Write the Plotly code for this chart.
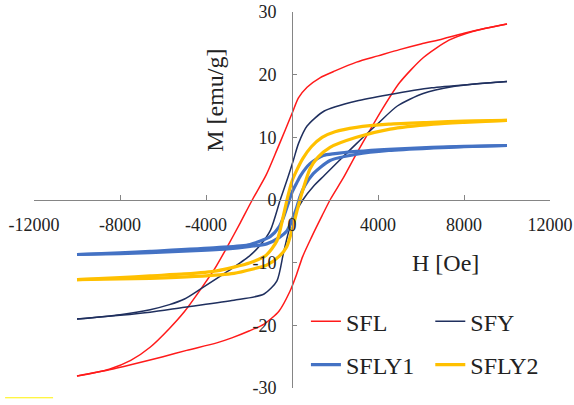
import plotly.graph_objects as go

# ---- data ----
sfl_up_h = [10000, 9000, 8000, 7000, 6000, 5000, 4000, 3000, 2000, 1300, 700, 300, 0, -300, -700, -1200, -1850, -2400, -3000, -3600, -4300, -5000, -5700, -6600, -7500, -8500, -10000]
sfl_up_m = [28.1, 27.4, 26.6, 25.7, 24.9, 24.0, 23.0, 22.0, 20.6, 19.5, 18.0, 16.3, 13.8, 11.3, 8.0, 4.0, 0.0, -3.6, -7.4, -11.0, -14.5, -17.8, -20.5, -23.5, -25.6, -27.0, -28.1]
sfl_lo_h = [-10000, -8500, -7500, -6000, -4900, -3500, -2800, -2000, -1300, -600, -100, 200, 500, 900, 1400, 1800, 2400, 3000, 3600, 4200, 5000, 6100, 7300, 8400, 10000]
sfl_lo_m = [-28.1, -27.1, -26.3, -25.0, -24.0, -22.8, -22.0, -20.9, -19.8, -17.7, -14.6, -12.0, -9.0, -6.0, -2.5, 0.2, 3.6, 7.4, 11.0, 14.5, 18.7, 22.7, 25.5, 26.9, 28.1]

sfy_up_h = [10000, 8500, 6500, 4500, 3000, 1500, 700, 300, 60, -200, -550, -1000, -1500, -2000, -3000, -4300, -5000, -5700, -6600, -8000, -10000]
sfy_up_m = [18.9, 18.5, 17.9, 16.8, 15.8, 14.2, 11.8, 9.0, 6.3, 3.5, 0.0, -4.8, -7.3, -9.0, -11.4, -14.3, -15.8, -16.7, -17.5, -18.3, -19.0]
sfy_lo_h = [-10000, -8000, -6600, -5000, -2700, -1300, -700, -400, -150, 100, 500, 1000, 1500, 2200, 3000, 4000, 4900, 6100, 7500, 8500, 10000]
sfy_lo_m = [-19.0, -18.4, -17.9, -17.1, -16.0, -15.0, -12.9, -8.5, -5.0, -2.5, 0.0, 2.2, 3.9, 6.3, 9.0, 12.2, 15.0, 17.0, 18.1, 18.5, 18.9]

sfly1_up_h = [10000, 8000, 6500, 4500, 3000, 2000, 1450, 840, 400, 200, 0, -200, -400, -600, -1000, -1950, -3500, -6600, -8000, -10000]
sfly1_up_m = [8.7, 8.55, 8.4, 8.1, 7.75, 7.4, 7.1, 5.8, 3.9, 2.6, 1.2, -0.8, -2.8, -4.3, -5.8, -7.1, -7.6, -8.2, -8.45, -8.7]
sfly1_lo_h = [-10000, -8000, -6600, -4500, -3000, -1950, -1180, -600, -250, 0, 200, 370, 600, 990, 1770, 3000, 4500, 6600, 8000, 10000]
sfly1_lo_m = [-8.7, -8.55, -8.4, -8.1, -7.8, -7.4, -7.0, -6.0, -5.0, -3.2, -1.4, 0.5, 2.3, 4.2, 6.3, 7.3, 7.9, 8.3, 8.5, 8.7]

sfly2_up_h = [10000, 8000, 6500, 4500, 3000, 2000, 1400, 900, 500, 200, 0, -200, -400, -700, -1200, -1950, -3500, -5000, -6600, -8000, -10000]
sfly2_up_m = [12.7, 12.6, 12.4, 12.1, 11.6, 10.9, 10.0, 8.5, 6.6, 4.6, 3.0, 0.5, -2.5, -6.5, -8.8, -10.0, -11.3, -11.8, -12.1, -12.4, -12.7]
sfly2_lo_h = [-10000, -8000, -6600, -4500, -2700, -1800, -1180, -600, -250, 0, 250, 450, 840, 1200, 1770, 3000, 4560, 6580, 8000, 10000]
sfly2_lo_m = [-12.7, -12.6, -12.5, -12.2, -11.7, -11.0, -10.4, -9.0, -7.5, -4.8, -1.5, 1.0, 5.0, 6.8, 8.4, 10.0, 11.3, 12.1, 12.4, 12.7]

x_ticks = [-12000, -8000, -4000, 0, 4000, 8000, 12000]
y_ticks = [-30, -20, -10, 0, 10, 20, 30]

FONT = "Liberation Serif"
TXT = "#222222"
AX = "#858585"

series = [
    ("SFL", sfl_up_h, sfl_up_m, sfl_lo_h, sfl_lo_m, "#FF1A1A", 1.5, "legend"),
    ("SFY", sfy_up_h, sfy_up_m, sfy_lo_h, sfy_lo_m, "#1F2F5E", 1.5, "legend2"),
    ("SFLY1", sfly1_up_h, sfly1_up_m, sfly1_lo_h, sfly1_lo_m, "#4472C4", 3.2, "legend"),
    ("SFLY2", sfly2_up_h, sfly2_up_m, sfly2_lo_h, sfly2_lo_m, "#FFC000", 3.2, "legend2"),
]

fig = go.Figure()
for name, uh, um, lh, lm, col, w, leg in series:
    fig.add_trace(go.Scatter(x=uh, y=um, mode="lines", name=name, legendgroup=name,
                             legend=leg, line=dict(color=col, width=w, shape="spline", smoothing=0.7)))
    fig.add_trace(go.Scatter(x=lh, y=lm, mode="lines", name=name, legendgroup=name,
                             legend=leg, showlegend=False,
                             line=dict(color=col, width=w, shape="spline", smoothing=0.7)))

fig.update_layout(
    width=574, height=405,
    margin=dict(l=34, r=24, t=12, b=17, autoexpand=False),
    paper_bgcolor="white", plot_bgcolor="white",
    font=dict(family=FONT, color=TXT, size=18),
    xaxis=dict(range=[-12000, 12000], tickvals=x_ticks, ticktext=[str(v) for v in x_ticks],
               anchor="free", position=0.5, showline=True, linecolor=AX, linewidth=1,
               ticks="inside", ticklen=5, tickcolor=AX, showgrid=False, zeroline=False,
               tickfont=dict(size=18, family=FONT, color=TXT), ticklabelstandoff=8,
               ticklabeloverflow="allow", automargin=False),
    yaxis=dict(range=[-30, 30], tickvals=y_ticks, ticktext=[str(v) for v in y_ticks],
               anchor="free", position=0.5, showline=True, linecolor=AX, linewidth=1,
               ticks="inside", ticklen=4, tickcolor=AX, showgrid=False, zeroline=False,
               tickfont=dict(size=18, family=FONT, color=TXT), ticklabelstandoff=12,
               ticklabeloverflow="allow", automargin=False),
    legend=dict(x=0.527, y=0.236, xanchor="left", yanchor="top", bgcolor="rgba(0,0,0,0)",
                font=dict(size=24, family=FONT, color=TXT), tracegroupgap=9, itemwidth=30),
    legend2=dict(x=0.768, y=0.236, xanchor="left", yanchor="top", bgcolor="rgba(0,0,0,0)",
                 font=dict(size=24, family=FONT, color=TXT), tracegroupgap=9, itemwidth=30),
    annotations=[
        dict(text="M [emu/g]", xref="paper", yref="paper", x=0.351, y=0.764, textangle=-90,
             xanchor="center", yanchor="middle",
             showarrow=False, font=dict(size=24, family=FONT, color=TXT)),
        dict(text="H [Oe]", xref="paper", yref="paper", x=0.798, y=0.332,
             xanchor="center", yanchor="middle",
             showarrow=False, font=dict(size=24, family=FONT, color=TXT)),
    ],
    shapes=[dict(type="line", xref="paper", yref="paper", x0=-0.056, x1=0.037, y0=-0.026, y1=-0.026,
                 line=dict(color="#FFF200", width=1))],
)

fig.write_html("out.html", config={"displayModeBar": False},
               post_script="document.body.style.margin='0';document.body.style.overflow='hidden';")
